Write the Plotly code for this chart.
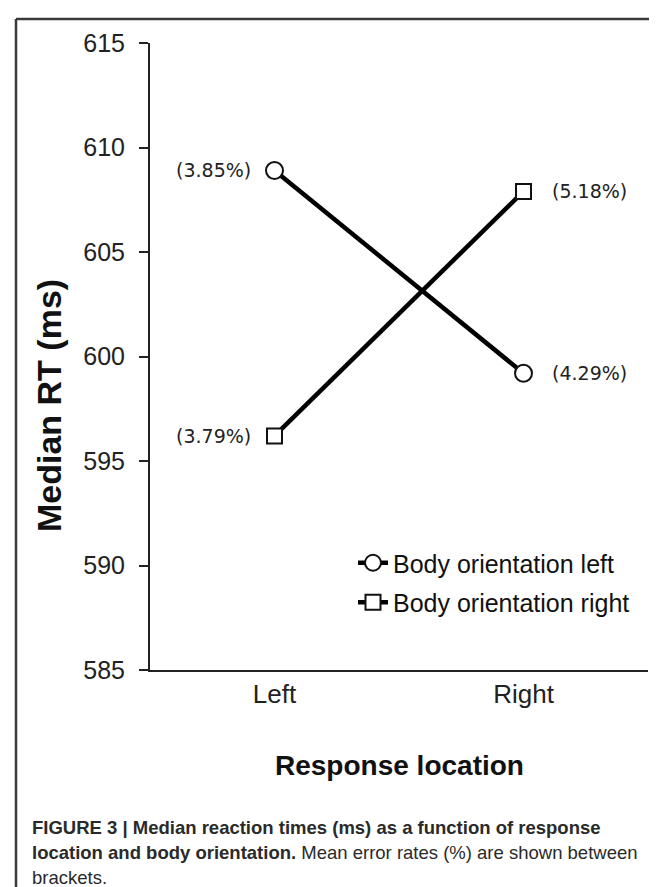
import plotly.graph_objects as go

# ---- data ----
categories = ["Left", "Right"]
series_names = ["Body orientation left", "Body orientation right"]
rt_body_left = [608.9, 599.2]
rt_body_right = [596.2, 607.9]
err_body_left = ["(3.85%)", "(4.29%)"]
err_body_right = ["(3.79%)", "(5.18%)"]
y_ticks = [585, 590, 595, 600, 605, 610, 615]
y_title = "Median RT (ms)"
x_title = "Response location"
caption_lines = [
    "<b>FIGURE 3 | Median reaction times (ms) as a function of response</b>",
    "<b>location and body orientation.</b> Mean error rates (%) are shown between",
    "brackets.",
]

W, H = 657, 887
L, R, T, B = 142, 17, 35, 225
PW, PH = W - L - R, H - T - B


def px(x):
    return (x - L) / PW


def py(y):
    return (H - B - y) / PH


fig = go.Figure()
fig.add_trace(go.Scatter(
    x=categories, y=rt_body_left, name=series_names[0], mode="lines+markers",
    legendgroup="a",
    line=dict(color="#000", width=4.5),
    marker=dict(symbol="circle", size=17, color="white", line=dict(color="#111", width=2)),
))
fig.add_trace(go.Scatter(
    x=categories, y=rt_body_right, name=series_names[1], mode="lines+markers",
    legendgroup="b",
    line=dict(color="#000", width=4.5),
    marker=dict(symbol="square", size=15, color="white", line=dict(color="#111", width=2)),
))

pct_font = dict(family="DejaVu Sans", size=19, color="#222")
for vals, labels in ((rt_body_left, err_body_left), (rt_body_right, err_body_right)):
    for i, (c, v, t) in enumerate(zip(categories, vals, labels)):
        if i == 0:
            fig.add_annotation(x=c, y=v, text=t, showarrow=False, xanchor="right",
                               xshift=-22, font=pct_font)
        else:
            fig.add_annotation(x=c, y=v, text=t, showarrow=False, xanchor="left",
                               xshift=26, font=pct_font)

# y-axis title
fig.add_annotation(xref="paper", yref="paper", x=px(41), y=py(398), text="<b>" + y_title + "</b>",
                   textangle=-90, showarrow=False, xanchor="center", yanchor="middle",
                   font=dict(family="Liberation Sans, Arial", size=34, color="#111"))
# x-axis title
fig.add_annotation(xref="paper", yref="paper", x=px(391), y=py(757), text="<b>" + x_title + "</b>",
                   showarrow=False, xanchor="center", yanchor="middle",
                   font=dict(family="Liberation Sans, Arial", size=28, color="#111"))

# caption
cap_font = dict(family="Liberation Sans, Arial", size=18.5, color="#2a2a2a")
for k, line in enumerate(caption_lines):
    fig.add_annotation(xref="paper", yref="paper", x=px(22), y=py(819 + 25 * k), text=line,
                       showarrow=False, xanchor="left", yanchor="middle", align="left",
                       font=cap_font)

# outer frame (left and top edges)
frame = dict(color="#3a3a3a", width=2.5)
fig.add_shape(type="line", xref="paper", yref="paper", x0=px(8), x1=px(8), y0=py(11), y1=py(900), line=frame)
fig.add_shape(type="line", xref="paper", yref="paper", x0=px(8), x1=px(670), y0=py(11), y1=py(11), line=frame)

fig.update_layout(
    width=W, height=H, margin=dict(l=L, r=R, t=T, b=B),
    paper_bgcolor="white", plot_bgcolor="white",
    showlegend=True,
    legend=dict(x=px(345), y=py(532), xanchor="left", yanchor="top",
                font=dict(family="Liberation Sans, Arial", size=25, color="#111"),
                bgcolor="rgba(0,0,0,0)", traceorder="grouped", tracegroupgap=4),
    xaxis=dict(type="category", range=[-0.5, 1.5], showline=True, linecolor="#222", linewidth=2,
               ticks="", showgrid=False, zeroline=False,
               tickfont=dict(family="Liberation Sans, Arial", size=26, color="#222")),
    yaxis=dict(range=[585, 615], tickvals=y_ticks, showline=True, linecolor="#222", linewidth=2,
               ticks="outside", ticklen=9, tickwidth=2, tickcolor="#222",
               showgrid=False, zeroline=False, ticklabelstandoff=9,
               tickfont=dict(family="Liberation Sans, Arial", size=25, color="#222")),
)

fig.write_html("out.html")
